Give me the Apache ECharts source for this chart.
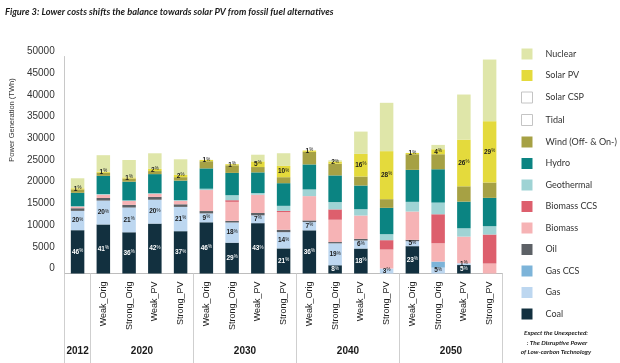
<!DOCTYPE html>
<html><head><meta charset="utf-8">
<script src="https://cdn.jsdelivr.net/npm/echarts@6/dist/echarts.min.js"></script>
<style>html,body{margin:0;padding:0;background:#fff}#c{width:620px;height:363px}</style>
</head><body><div id="c"></div>
<script>
// ---- categories / tick labels ----
const scenarios = ['', 'Weak_Orig', 'Strong_Orig', 'Weak_PV', 'Strong_PV', 'Weak_Orig', 'Strong_Orig', 'Weak_PV', 'Strong_PV', 'Weak_Orig', 'Strong_Orig', 'Weak_PV', 'Strong_PV', 'Weak_Orig', 'Strong_Orig', 'Weak_PV', 'Strong_PV'];
const years = ['2012', '2020', '2030', '2040', '2050'];
const groupSizes = [1, 4, 4, 4, 4];

// ---- series values (TWh), stacked bottom -> top ----
const coal       = [9980, 11300, 9500, 11500, 9750, 11800, 7100, 11600, 5780, 9950, 1900, 5750, 0, 6300, 0, 1950, 0];
const gas        = [4450, 5500, 5700, 5500, 5600, 2050, 4650, 1800, 3750, 1900, 5050, 1850, 1150, 1150, 1350, 410, 0];
const gasCCS     = [0, 0, 0, 0, 0, 0, 0, 0, 0, 0, 0, 0, 0, 0, 1400, 0, 0];
const oil        = [610, 600, 600, 650, 600, 540, 380, 540, 540, 380, 300, 380, 0, 300, 0, 0, 0];
const biomass    = [380, 750, 900, 700, 800, 4840, 4380, 4220, 4070, 5600, 5140, 5380, 4380, 6530, 4220, 6140, 2300];
const biomassCCS = [0, 0, 0, 0, 0, 0, 380, 0, 300, 0, 2380, 0, 2150, 0, 6680, 0, 6680];
const geothermal = [70, 150, 150, 150, 150, 300, 1150, 380, 1150, 1540, 1690, 1460, 1380, 2230, 2690, 1920, 1920];
const hydro      = [3100, 4200, 4300, 4400, 4500, 4690, 5140, 4760, 5220, 5760, 6140, 5450, 6070, 7370, 7680, 6140, 6530];
const wind       = [800, 700, 750, 700, 800, 1650, 1750, 1230, 1380, 2900, 2690, 2070, 2000, 3600, 3460, 3530, 3530];
const tidal      = [0, 0, 0, 0, 0, 0, 0, 0, 0, 0, 0, 0, 0, 0, 0, 0, 0];
const solarCSP   = [0, 0, 0, 0, 0, 0, 0, 0, 0, 0, 0, 0, 0, 0, 0, 0, 0];
const solarPV    = [250, 260, 250, 500, 520, 300, 250, 1300, 2600, 300, 500, 5220, 11060, 300, 1150, 10750, 14130];
const nuclear    = [2300, 3800, 4000, 3600, 3600, 0, 0, 1540, 2920, 0, 300, 5140, 11140, 0, 1000, 10400, 14210];

// ---- printed share labels (%) ----
const coalPct = [46, 41, 36, 42, 37, 46, 29, 43, 21, 36, 8, 18, null, 23, null, 5, null];
const gasPct  = [20, 20, 21, 20, 21, 9, 18, 7, 14, 7, 19, 6, 3, 5, 5, 1, null];
const pvPct   = [1, 1, 1, 2, 2, 1, 1, 5, 10, 1, 2, 16, 28, 1, 4, 26, 29];

const yMax = 50000, yStep = 5000;

const colors = {
  'Coal': '#12303f', 'Gas': '#bdd7f0', 'Gas CCS': '#7db4d9', 'Oil': '#5d6166',
  'Biomass': '#f6b3b5', 'Biomass CCS': '#dd5f6d', 'Geothermal': '#9fd3d4',
  'Hydro': '#0b8482', 'Wind (Off- & On-)': '#a6a144', 'Tidal': '#ffffff',
  'Solar CSP': '#ffffff', 'Solar PV': '#e4da3c', 'Nuclear': '#dfe6a9'
};

const stackDef = [
  ['Coal', coal, coalPct, '#ffffff'],
  ['Gas', gas, gasPct, '#1a1a1a'],
  ['Gas CCS', gasCCS, null],
  ['Oil', oil, null],
  ['Biomass', biomass, null],
  ['Biomass CCS', biomassCCS, null],
  ['Geothermal', geothermal, null],
  ['Hydro', hydro, null],
  ['Wind (Off- & On-)', wind, null],
  ['Tidal', tidal, null],
  ['Solar CSP', solarCSP, null],
  ['Solar PV', solarPV, pvPct, '#1a1a1a'],
  ['Nuclear', nuclear, null]
];

const series = stackDef.map(([name, data, pct, lc]) => {
  const s = {
    name, type: 'bar', stack: 'total', data, barWidth: 13.5,
    itemStyle: { color: colors[name] },
    emphasis: { disabled: true }
  };
  if (pct) {
    s.label = {
      show: true, position: 'inside', color: lc,
      formatter: p => pct[p.dataIndex] == null ? '' : '{n|' + pct[p.dataIndex] + '}{p|%}',
      rich: {
        n: { fontSize: 6.5, fontWeight: 'bold', color: lc, fontFamily: 'Liberation Sans' },
        p: { fontSize: 4.5, color: lc, fontFamily: 'Liberation Sans', verticalAlign: 'top', padding: [0, 0, 2, 0] }
      }
    };
  }
  return s;
});

// second (year) axis built from years / groupSizes in half-category units
const halfSlots = 2 * groupSizes.reduce((a, b) => a + b, 0);
const yearAxisData = new Array(halfSlots + 1).fill('');
const boundaries = [0];
const centers = [];
let acc = 0;
groupSizes.forEach((g, i) => {
  centers.push(acc * 2 + g);
  yearAxisData[acc * 2 + g] = years[i];
  acc += g;
  boundaries.push(acc * 2);
});

const legendOrder = stackDef.map(d => d[0]).reverse();
const legendData = legendOrder.map(n => (n === 'Tidal' || n === 'Solar CSP')
  ? { name: n, itemStyle: { color: '#ffffff', borderColor: '#c4c4c4', borderWidth: 1 } }
  : { name: n });

const creditStyle = { fontSize: 6.4, fontStyle: 'italic', fontWeight: 'bold', fill: '#222', align: 'center', fontFamily: 'Lato' };

const chart = echarts.init(document.getElementById('c'), null, { renderer: 'canvas' });
chart.setOption({
  animation: false,
  backgroundColor: '#ffffff',
  title: {
    text: 'Figure 3: Lower costs shifts the balance towards solar PV from fossil fuel alternatives',
    left: 5, top: 7, padding: 0,
    textStyle: { fontSize: 9.3, fontWeight: 'bold', fontStyle: 'italic', color: '#1a1a1a', fontFamily: 'Lato' }
  },
  legend: {
    orient: 'vertical', left: 521, top: 48.5, padding: 0,
    itemWidth: 11, itemHeight: 11, itemGap: 10.5,
    icon: 'rect', data: legendData, selectedMode: false,
    textStyle: { fontSize: 9, color: '#333', fontFamily: 'Lato', padding: [0, 0, 0, 8] }
  },
  grid: { left: 55.4, right: 117.5, top: 56.5, bottom: 89.5, containLabel: false },
  xAxis: [{
    type: 'category', data: scenarios, position: 'bottom',
    axisLine: { lineStyle: { color: '#bdbdbd', width: 1 } },
    axisTick: { show: false },
    axisLabel: { rotate: 90, fontSize: 9, color: '#222', margin: 8, fontFamily: 'Liberation Sans', interval: 0 }
  }, {
    type: 'category', data: yearAxisData, boundaryGap: false, position: 'bottom',
    axisLine: { show: false },
    axisTick: { show: true, length: 90, interval: (i) => boundaries.includes(i), lineStyle: { color: '#cfcfcf', width: 1 } },
    axisLabel: { interval: (i) => centers.includes(i), fontSize: 10, fontWeight: 'bold', color: '#1a1a1a', margin: 73, fontFamily: 'Liberation Sans' },
    splitLine: { show: false }
  }],
  yAxis: {
    type: 'value', min: 0, max: yMax, interval: yStep,
    name: 'Power Generation (TWh)', nameLocation: 'middle', nameRotate: 90, nameGap: 42,
    nameTextStyle: { fontSize: 7.5, color: '#333', fontFamily: 'Liberation Sans', padding: [0, 0, 0, 90] },
    axisLine: { show: true, lineStyle: { color: '#c8c8c8' } },
    axisTick: { show: false },
    splitLine: { show: false },
    axisLabel: { fontSize: 10, color: '#333', margin: 10, fontFamily: 'Liberation Sans', verticalAlign: 'bottom', lineHeight: 10, formatter: v => String(v) }
  },
  series,
  graphic: [
    { type: 'text', x: 556, y: 330, style: Object.assign({ text: 'Expect the Unexpected:' }, creditStyle) },
    { type: 'text', x: 557, y: 339.5, style: Object.assign({ text: ': The Disruptive Power' }, creditStyle) },
    { type: 'text', x: 556, y: 349, style: Object.assign({ text: 'of Low-carbon Technology' }, creditStyle) }
  ]
});
</script>
</body></html>
